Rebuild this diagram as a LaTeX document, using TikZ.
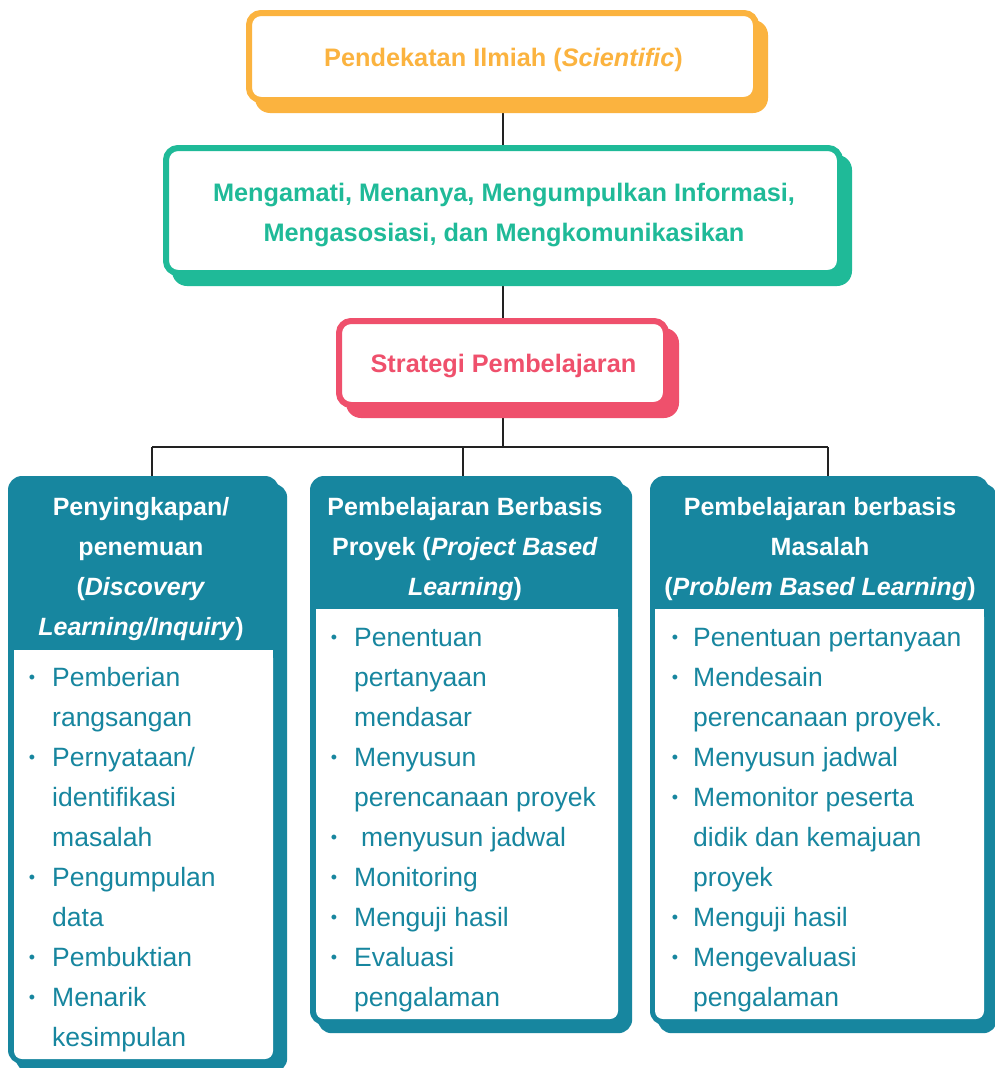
\documentclass[tikz,border=0pt]{standalone}
\usepackage{fontspec}
\setmainfont{Liberation Sans}
\usetikzlibrary{calc}
\definecolor{cOr}{HTML}{FBB33F}
\definecolor{cGr}{HTML}{1FBA98}
\definecolor{cRd}{HTML}{EF506C}
\definecolor{cTl}{HTML}{17869F}
\definecolor{cLn}{HTML}{222222}
\pgfdeclarelayer{bg}
\pgfdeclarelayer{shad}
\pgfsetlayers{bg,shad,main}
\begin{document}
\begin{tikzpicture}[x=1pt,y=-1pt,
  box/.style={rectangle, rounded corners=12pt, line width=6pt, fill=white, inner sep=0pt},
  tealbox/.style={rectangle, rounded corners=14pt, fill=cTl, inner sep=0pt},
  innerbox/.style={rectangle, rounded corners=8pt, fill=white, inner sep=0pt},
  ttl/.style={anchor=base, inner sep=0pt, font=\fontsize{25.3}{30}\selectfont\bfseries},
  hd/.style={anchor=base, inner sep=0pt, text=white, font=\fontsize{25}{30}\selectfont\bfseries},
  li/.style={anchor=base west, inner sep=0pt, text=cTl, font=\fontsize{26.5}{30}\selectfont},
  bul/.style={anchor=base, inner sep=0pt, text=cTl, font=\fontsize{18}{20}\selectfont},
  conn/.style={draw=cLn, line width=2pt}]
\useasboundingbox (0,0) rectangle (994,1068);
\begin{pgfonlayer}{bg}
\fill[white] (0,0) rectangle (994,1068);
\end{pgfonlayer}

% top boxes
\node[box, draw=cOr, minimum width=507pt, minimum height=87pt] (t1) at (502.5,56.5) {};
\node[box, draw=cGr, minimum width=674pt, minimum height=125pt] (t2) at (503,210.5) {};
\node[box, draw=cRd, minimum width=327pt, minimum height=84pt] (t3) at (502.5,363) {};

% bottom boxes
\node[tealbox, minimum width=271pt, minimum height=588pt] (L) at (143.5,770) {};
\node[tealbox, minimum width=314pt, minimum height=549pt] (M) at (467,750.5) {};
\node[tealbox, minimum width=339pt, minimum height=549pt] (R) at (819.5,750.5) {};
\node[innerbox, minimum width=259pt, minimum height=409pt] (Lin) at (143.5,854.5) {};
\node[innerbox, minimum width=302pt, minimum height=410pt] (Min) at (467,814) {};
\node[innerbox, minimum width=329pt, minimum height=410pt] (Rin) at (819.5,814) {};
\fill[white] (Lin.north west) rectangle (Lin.east);
\fill[white] (Min.north west) rectangle (Min.east);
\fill[white] (Rin.north west) rectangle (Rin.east);

% shadows
\begin{pgfonlayer}{shad}
\fill[cOr, rounded corners=15pt] ($(t1.north west)+(9,10)$) rectangle ($(t1.south east)+(9,10)$);
\fill[cGr, rounded corners=15pt] ($(t2.north west)+(9,10)$) rectangle ($(t2.south east)+(9,10)$);
\fill[cRd, rounded corners=15pt] ($(t3.north west)+(10,10)$) rectangle ($(t3.south east)+(10,10)$);
\fill[cTl, rounded corners=14pt] ($(L.north west)+(8,8)$) rectangle ($(L.south east)+(8,8)$);
\fill[cTl, rounded corners=14pt] ($(M.north west)+(8,8)$) rectangle ($(M.south east)+(8,8)$);
\fill[cTl, rounded corners=14pt] ($(R.north west)+(8,8)$) rectangle ($(R.south east)+(8,8)$);
\end{pgfonlayer}

% connectors
\coordinate (hub) at (503,447);
\coordinate (dl) at (152,447);
\coordinate (dm) at (463,447);
\coordinate (dr) at (828,447);
\begin{pgfonlayer}{bg}
\draw[conn] (t1.south) -- (t1.south |- t2.north);
\draw[conn] (t2.south) -- (t2.south |- t3.north);
\draw[conn] (t3.south) -- (t3.south |- hub);
\draw[conn] (dl) -- (dr);
\draw[conn] (dl) -- (dl |- L.north);
\draw[conn] (dm) -- (dm |- M.north);
\draw[conn] (dr) -- (dr |- R.north);
\end{pgfonlayer}

% top texts
\node[ttl, text=cOr] (tx1) at (503.5,66) {Pendekatan Ilmiah (\textit{Scientific})};
\node[ttl, text=cGr] (tx2a) at (504,201) {Mengamati, Menanya, Mengumpulkan Informasi,};
\node[ttl, text=cGr] (tx2b) at (504,241) {Mengasosiasi, dan Mengkomunikasikan};
\node[ttl, text=cRd] (tx3) at (503.5,372) {Strategi Pembelajaran};

% headers
\node[hd] (hL1) at (141,515) {Penyingkapan/};
\node[hd] (hL2) at (141,555) {penemuan};
\node[hd] (hL3) at (141,595) {(\textit{Discovery}};
\node[hd] (hL4) at (141,635) {\textit{Learning/Inquiry})};
\node[hd] (hM1) at (465,515) {Pembelajaran Berbasis};
\node[hd] (hM2) at (465,555) {Proyek (\textit{Project Based}};
\node[hd] (hM3) at (465,595) {\textit{Learning})};
\node[hd] (hR1) at (820,515) {Pembelajaran berbasis};
\node[hd] (hR2) at (820,555) {Masalah};
\node[hd] (hR3) at (820,595) {(\textit{Problem Based Learning})};

% lists
\foreach \b/\t [count=\i from 0] in {1/Pemberian, 0/rangsangan, 1/Pernyataan\slash{}, 0/identifikasi, 0/masalah, 1/Pengumpulan, 0/data, 1/Pembuktian, 1/Menarik, 0/kesimpulan}{
  \node[li] (Lt\i) at (52,686+40*\i) {\t};
  \ifnum\b=1 \node[bul] (Lb\i) at (32,683+40*\i) {•};\fi
}
\foreach \b/\t [count=\i from 0] in {1/Penentuan, 0/pertanyaan, 0/mendasar, 1/Menyusun, 0/perencanaan proyek, 1/\hspace*{7pt}menyusun jadwal, 1/Monitoring, 1/Menguji hasil, 1/Evaluasi, 0/pengalaman}{
  \node[li] (Mt\i) at (354,646+40*\i) {\t};
  \ifnum\b=1 \node[bul] (Mb\i) at (334,643+40*\i) {•};\fi
}
\foreach \b/\t [count=\i from 0] in {1/Penentuan pertanyaan, 1/Mendesain, 0/perencanaan proyek., 1/Menyusun jadwal, 1/Memonitor peserta, 0/didik dan kemajuan, 0/proyek, 1/Menguji hasil, 1/Mengevaluasi, 0/pengalaman}{
  \node[li] (Rt\i) at (693,646+40*\i) {\t};
  \ifnum\b=1 \node[bul] (Rb\i) at (675,643+40*\i) {•};\fi
}
\end{tikzpicture}
\end{document}
